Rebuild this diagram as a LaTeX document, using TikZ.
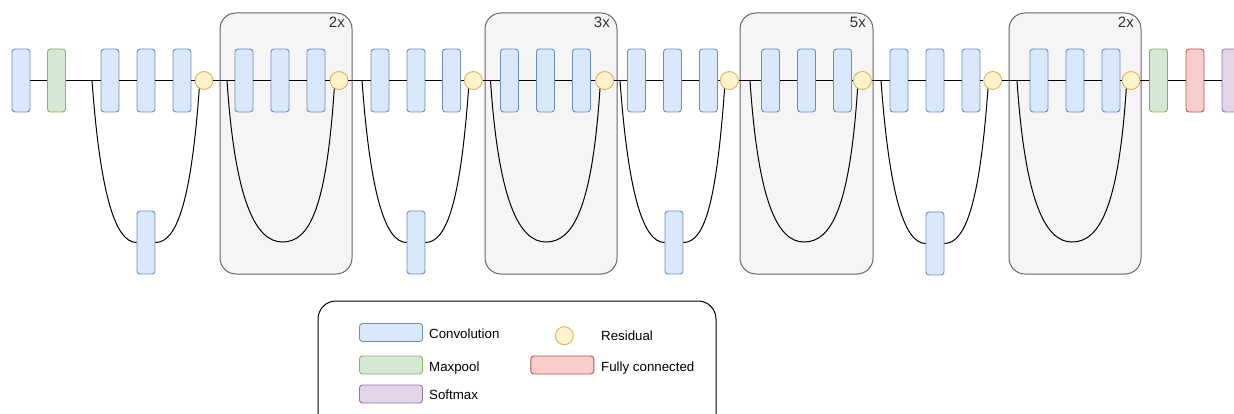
\documentclass[tikz,border=0pt]{standalone}
\usepackage{fontspec}
\setmainfont{Liberation Sans}
\definecolor{convF}{HTML}{DAE8FC}\definecolor{convD}{HTML}{6C8EBF}
\definecolor{poolF}{HTML}{D5E8D4}\definecolor{poolD}{HTML}{82B366}
\definecolor{fcF}{HTML}{F8CECC}\definecolor{fcD}{HTML}{B85450}
\definecolor{smF}{HTML}{E1D5E7}\definecolor{smD}{HTML}{9673A6}
\definecolor{resF}{HTML}{FFF2CC}\definecolor{resD}{HTML}{D6B656}
\definecolor{grpF}{HTML}{F5F5F5}\definecolor{grpD}{HTML}{666666}
\definecolor{grpT}{HTML}{333333}
\tikzset{
  layer/.style={draw, rounded corners=3pt, minimum width=18pt, minimum height=63pt, inner sep=0pt, line width=0.9pt},
  conv/.style={layer, fill=convF, draw=convD},
  pool/.style={layer, fill=poolF, draw=poolD},
  fcl/.style={layer, fill=fcF, draw=fcD},
  soft/.style={layer, fill=smF, draw=smD},
  res/.style={circle, draw=resD, fill=resF, minimum size=18pt, inner sep=0pt, line width=0.9pt},
  grp/.style={draw=grpD, fill=grpF, rounded corners=16pt, line width=1pt},
  grplabel/.style={text=grpT, font=\fontsize{15}{18}\selectfont, inner sep=0pt, anchor=base east},
  link/.style={line width=1pt, black},
  legbox/.style={draw, rounded corners=3pt, minimum width=63pt, minimum height=18pt, inner sep=0pt, line width=0.9pt},
  legtext/.style={font=\fontsize{13.3}{16}\selectfont, inner sep=0pt, anchor=base west}
}
\begin{document}
\begin{tikzpicture}[x=1pt, y=-1pt]
\clip (0,0) rectangle (1234,414);
\useasboundingbox (0,0) rectangle (1234,414);
% groups
\draw[grp] (220,13) rectangle (352,274);
\draw[grp] (485,13) rectangle (617,274);
\draw[grp] (740,13) rectangle (873,274);
\draw[grp] (1009,13) rectangle (1141,274);
\node[grplabel] (l1) at (345,27.3) {2x};
\node[grplabel] (l2) at (610,27.3) {3x};
\node[grplabel] (l3) at (866,27.3) {5x};
\node[grplabel] (l4) at (1134,27.3) {2x};
% main row
\node[conv] (n1) at (21,80.5) {};
\node[pool] (n2) at (56.5,80.5) {};
\node[conv] (n3) at (110,80.5) {};
\node[conv] (n4) at (146,80.5) {};
\node[conv] (n5) at (182,80.5) {};
\node[res]  (r1) at (204,80.5) {};
\node[conv] (n6) at (244,80.5) {};
\node[conv] (n7) at (280,80.5) {};
\node[conv] (n8) at (316,80.5) {};
\node[res]  (r2) at (339,80.5) {};
\node[conv] (n9) at (380,80.5) {};
\node[conv] (n10) at (416,80.5) {};
\node[conv] (n11) at (451.5,80.5) {};
\node[res]  (r3) at (473.3,80.5) {};
\node[conv] (n12) at (509.5,80.5) {};
\node[conv] (n13) at (545.5,80.5) {};
\node[conv] (n14) at (581.5,80.5) {};
\node[res]  (r4) at (604.7,80.5) {};
\node[conv] (n15) at (636.5,80.5) {};
\node[conv] (n16) at (672.5,80.5) {};
\node[conv] (n17) at (708.5,80.5) {};
\node[res]  (r5) at (729.3,80.5) {};
\node[conv] (n18) at (770.5,80.5) {};
\node[conv] (n19) at (806.5,80.5) {};
\node[conv] (n20) at (842.5,80.5) {};
\node[res]  (r6) at (862.3,80.5) {};
\node[conv] (n21) at (899,80.5) {};
\node[conv] (n22) at (935,80.5) {};
\node[conv] (n23) at (971,80.5) {};
\node[res]  (r7) at (992.7,80.5) {};
\node[conv] (n24) at (1039,80.5) {};
\node[conv] (n25) at (1075,80.5) {};
\node[conv] (n26) at (1111,80.5) {};
\node[res]  (r8) at (1131,80.5) {};
\node[pool] (n27) at (1158.5,80.5) {};
\node[fcl]  (n28) at (1195,80.5) {};
\node[soft] (n29) at (1231,80.5) {};
% lower convs
\node[conv] (d1) at (146,242.5) {};
\node[conv] (d2) at (416,242.5) {};
\node[conv] (d3) at (674,242.5) {};
\node[conv] (d4) at (935,243.5) {};
% main line
\foreach \a/\b in {n1/n2,n2/n3,n3/n4,n4/n5,n5/r1,r1/n6,n6/n7,n7/n8,n8/r2,r2/n9,n9/n10,n10/n11,n11/r3,r3/n12,n12/n13,n13/n14,n14/r4,r4/n15,n15/n16,n16/n17,n17/r5,r5/n18,n18/n19,n19/n20,n20/r6,r6/n21,n21/n22,n22/n23,n23/r7,r7/n24,n24/n25,n25/n26,n26/r8,r8/n27,n27/n28,n28/n29}
  \draw[link] (\a) -- (\b);
% skip branches with downsampling conv
\coordinate (s1) at (92,80.5);
\coordinate (s2) at (362,80.5);
\coordinate (s3) at (620,80.5);
\coordinate (s4) at (881,80.5);
\foreach \s/\d/\r in {s1/d1/r1, s2/d2/r3, s3/d3/r5, s4/d4/r7}{
  \draw[link] (\s) .. controls +(8,110) and +(-22,0) .. (\d.west);
  \draw[link] (\d.east) .. controls +(22,0) and +(-8,110) .. (\r.240);
}
% identity branches inside groups
\coordinate (g1) at (227,80.5);  \coordinate (b1) at (282.5,242);
\coordinate (g2) at (490.5,80.5); \coordinate (b2) at (546,242);
\coordinate (g3) at (750,80.5);  \coordinate (b3) at (804,242);
\coordinate (g4) at (1017,80.5); \coordinate (b4) at (1072,242);
\foreach \g/\b/\r in {g1/b1/r2, g2/b2/r4, g3/b3/r6, g4/b4/r8}{
  \draw[link] (\g) .. controls +(8,120) and +(-27,0) .. (\b) .. controls +(27,0) and +(-8,120) .. (\r.240);
}
% legend
\draw[line width=1pt, rounded corners=18pt] (318,430) -- (318,301) -- (716,301) -- (716,430);
\node[legbox, fill=convF, draw=convD] (k1) at (391,332.5) {};
\node[legbox, fill=poolF, draw=poolD] (k2) at (391,365) {};
\node[legbox, fill=smF, draw=smD] (k3) at (391,394) {};
\node[legbox, fill=fcF, draw=fcD] (k4) at (562.3,365) {};
\node[res] (k5) at (564.3,335.7) {};
\node[legtext] (t1) at (429,338) {Convolution};
\node[legtext] (t2) at (429,371) {Maxpool};
\node[legtext] (t3) at (429,399.3) {Softmax};
\node[legtext] (t4) at (601,340.5) {Residual};
\node[legtext] (t5) at (601,371) {Fully connected};
\end{tikzpicture}
\end{document}
